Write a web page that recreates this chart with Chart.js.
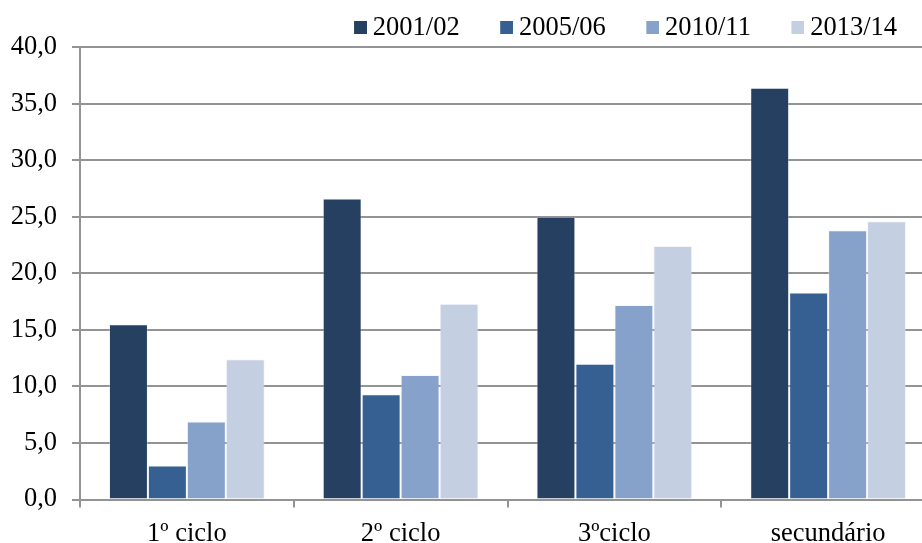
<!DOCTYPE html>
<html>
<head>
<meta charset="utf-8">
<script src="https://cdn.jsdelivr.net/npm/chart.js@4/dist/chart.umd.min.js"></script>
<style>
  html, body { margin: 0; padding: 0; background: #fff; overflow: hidden; }
  #wrap { width: 935px; height: 543px; }
</style>
</head>
<body>
<div id="wrap"><canvas id="c" width="935" height="543"></canvas></div>
<script>
// Categories, series and axis labels
const categories = ['1º ciclo', '2º ciclo', '3ºciclo', 'secundário'];
const seriesLabels = ['2001/02', '2005/06', '2010/11', '2013/14'];
const values2001 = [15.5, 26.6, 25.0, 36.4];
const values2005 = [3.0, 9.3, 12.0, 18.3];
const values2010 = [6.9, 11.0, 17.2, 23.8];
const values2013 = [12.4, 17.3, 22.4, 24.6];
const yTickLabels = ['0,0', '5,0', '10,0', '15,0', '20,0', '25,0', '30,0', '35,0', '40,0'];

const seriesColors = ['#264061', '#366092', '#86A2CB', '#C4CFE2'];
const gridColor = '#939393';
const font = { family: '"Liberation Serif", "Times New Roman", serif', size: 26.5 };

// Legend swatches: square on the right part of a small canvas, so the
// square sits close to its label text.
function makeSwatch(color) {
  const c = document.createElement('canvas');
  c.width = 23; c.height = 13;
  const g = c.getContext('2d');
  g.fillStyle = color;
  g.fillRect(10, 0, 13, 13);
  return c;
}
const swatches = seriesColors.map(makeSwatch);

const seriesValues = [values2001, values2005, values2010, values2013];
const datasets = seriesLabels.map((label, i) => ({
  label,
  data: seriesValues[i],
  backgroundColor: seriesColors[i],
  borderColor: 'rgba(225,232,244,0.35)',
  borderWidth: 1,
  categoryPercentage: 0.729,
  barPercentage: 1.0
}));

new Chart(document.getElementById('c'), {
  type: 'bar',
  data: { labels: categories, datasets },
  options: {
    responsive: false,
    animation: false,
    devicePixelRatio: 1,
    layout: { padding: { top: -23.5, left: 0, right: 0, bottom: 0 } },
    plugins: {
      tooltip: { enabled: false },
      legend: {
        position: 'top',
        align: 'end',
        maxHeight: 70.5,
        labels: {
          usePointStyle: true,
          pointStyleWidth: 8,
          boxHeight: 13,
          padding: 38,
          color: '#000',
          font,
          generateLabels(chart) {
            const items = Chart.defaults.plugins.legend.labels.generateLabels(chart);
            items.forEach((it, i) => { it.pointStyle = swatches[i]; });
            return items;
          }
        }
      }
    },
    scales: {
      x: {
        offset: true,
        grid: {
          display: true,
          offset: true,
          drawOnChartArea: false,
          drawTicks: true,
          tickLength: 8,
          color: gridColor,
          lineWidth: 2
        },
        border: { display: true, color: gridColor, width: 2 },
        ticks: { color: '#000', font, padding: 11, maxRotation: 0, autoSkip: false },
        afterFit(scale) { scale.height = 43.5; }
      },
      y: {
        min: 0,
        max: 40,
        ticks: {
          stepSize: 5,
          color: '#000',
          font,
          padding: 15,
          callback: (value, index) => yTickLabels[index]
        },
        grid: { color: gridColor, lineWidth: 2, tickLength: 8, drawTicks: true },
        border: { display: true, color: gridColor, width: 2 },
        afterFit(scale) { scale.width = 80; }
      }
    }
  }
});
</script>
</body>
</html>
